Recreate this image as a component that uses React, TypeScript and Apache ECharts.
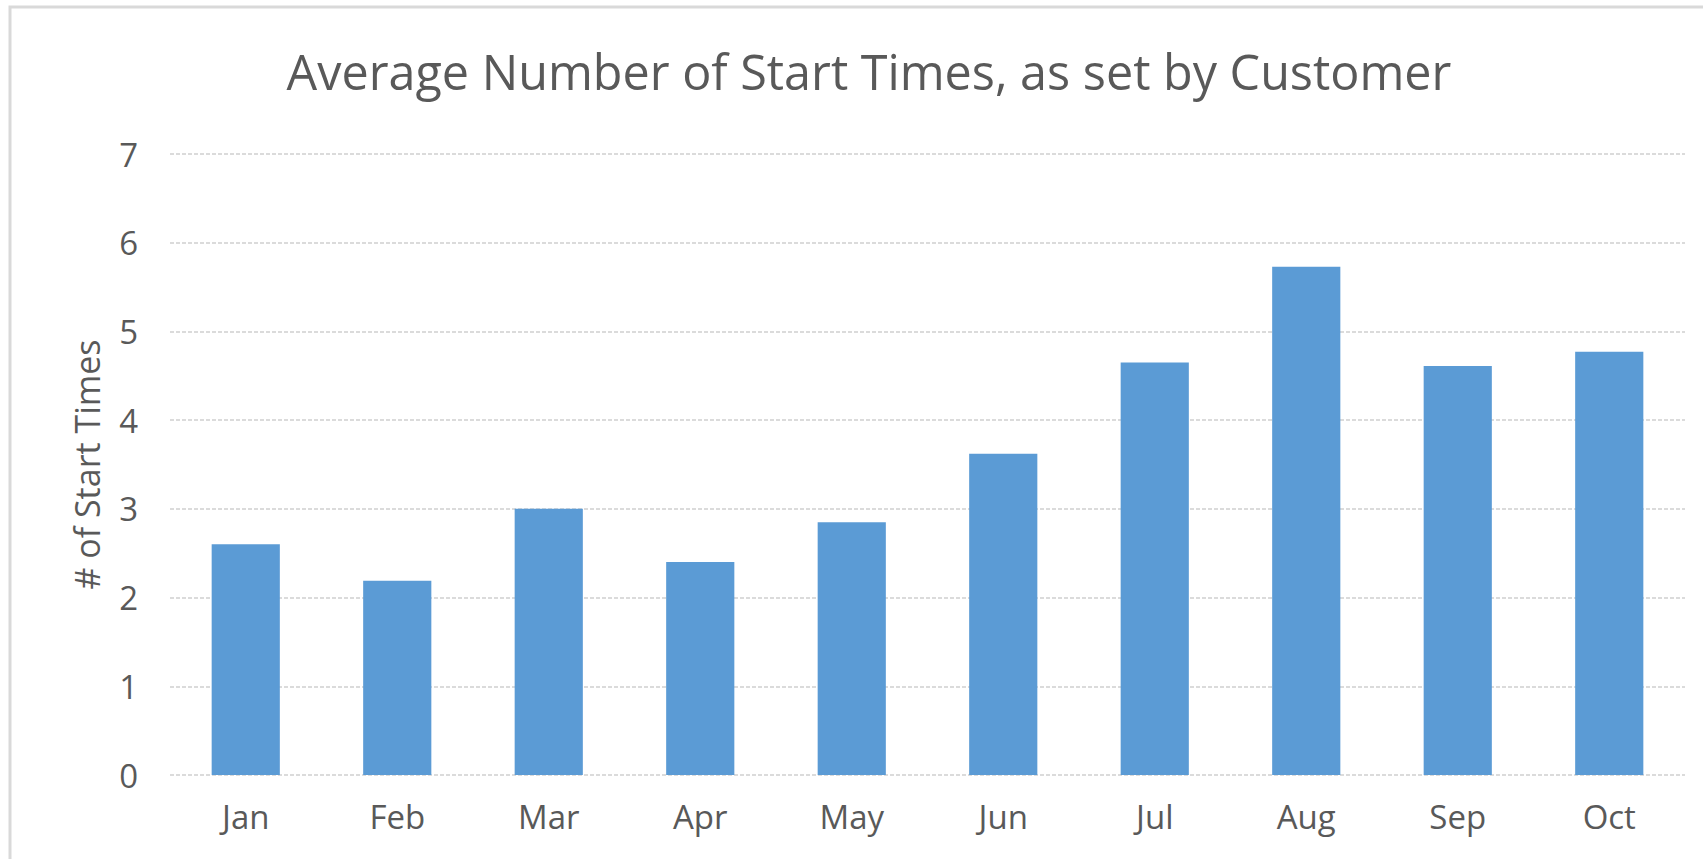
import React, { useEffect, useRef } from "react";
import * as echarts from "echarts";

const titleText = "Average Number of Start Times, as set by Customer";
const yAxisName = "# of Start Times";
const months = ["Jan", "Feb", "Mar", "Apr", "May", "Jun", "Jul", "Aug", "Sep", "Oct"];
const avgStartTimes = [2.6, 2.19, 3.0, 2.4, 2.85, 3.62, 4.65, 5.73, 4.61, 4.77];
const yMin = 0;
const yMax = 7;
const yInterval = 1;

export default function App() {
  const ref = useRef<HTMLDivElement>(null);
  useEffect(() => {
    document.body.style.margin = "0";
    document.body.style.overflow = "hidden";
    const chart = echarts.init(ref.current!, null, { renderer: "svg" });
    const font = "'Open Sans', 'Noto Sans', sans-serif";
    chart.setOption({
      animation: false,
      backgroundColor: "#ffffff",
      title: {
        text: titleText,
        left: 869,
        top: 46,
        textAlign: "center",
        padding: 0,
        textStyle: { fontFamily: font, fontSize: 48.5, fontWeight: "normal", color: "#595959" },
      },
      graphic: [
        {
          type: "rect",
          shape: { x: 10, y: 7, width: 1720, height: 900 },
          style: { fill: "none", stroke: "#d9d9d9", lineWidth: 3 },
          silent: true,
        },
      ],
      grid: { left: 170, right: 18, top: 154, bottom: 84, containLabel: false },
      xAxis: {
        type: "category",
        data: months,
        axisLine: { show: false },
        axisTick: { show: false },
        axisLabel: { fontFamily: font, fontSize: 33, color: "#595959", margin: 25 },
      },
      yAxis: {
        type: "value",
        min: yMin,
        max: yMax,
        interval: yInterval,
        name: yAxisName,
        nameLocation: "middle",
        nameGap: 66,
        nameRotate: 90,
        nameTextStyle: { fontFamily: font, fontSize: 34, color: "#595959" },
        axisLine: { show: false },
        axisTick: { show: false },
        axisLabel: { fontFamily: font, fontSize: 33, color: "#595959", margin: 32 },
        splitLine: { lineStyle: { color: "#cfcfcf", width: 1.5, type: [4, 2] } },
      },
      series: [
        {
          type: "bar",
          data: avgStartTimes,
          barWidth: "45%",
          itemStyle: { color: "#5b9bd5" },
        },
      ],
    });
    return () => chart.dispose();
  }, []);
  return (
    <div
      ref={ref}
      style={{ position: "absolute", left: 0, top: 0, width: 1703, height: 859 }}
    />
  );
}
